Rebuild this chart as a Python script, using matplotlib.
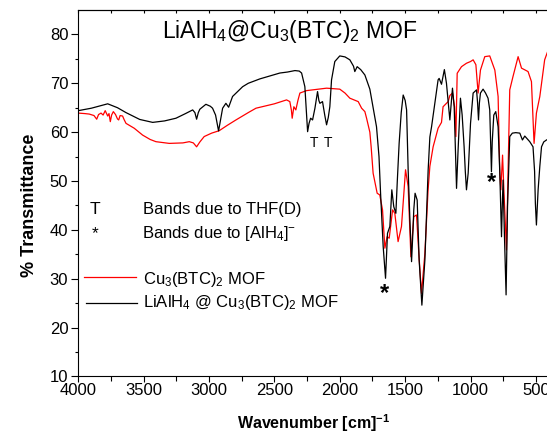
"""FTIR spectra: Cu3(BTC)2 MOF vs LiAlH4@Cu3(BTC)2 MOF."""

import matplotlib
matplotlib.use("Agg")
import matplotlib.pyplot as plt
import numpy as np

plt.rcParams["font.family"] = ["Liberation Sans", "DejaVu Sans"]
plt.rcParams["mathtext.fontset"] = "custom"
plt.rcParams["mathtext.rm"] = "Liberation Sans"
plt.rcParams["mathtext.it"] = "Liberation Sans:italic"
plt.rcParams["mathtext.bf"] = "Liberation Sans:bold"

# LiAlH4@Cu3(BTC)2 MOF (black)
wn_black = [4000, 3900, 3775, 3700, 3635, 3530, 3431, 3340, 3253, 3180, 3125, 3108, 3095, 3082,
            3070, 3024, 2990, 2973, 2950, 2927, 2912, 2896, 2871, 2850, 2820, 2743, 2700, 2611,
            2458, 2400, 2343, 2310, 2292, 2267, 2255, 2246, 2235, 2223, 2208, 2190, 2170, 2160,
            2152, 2132, 2115, 2101, 2088, 2076, 2063, 2038, 2000, 1960, 1923, 1895, 1885, 1867,
            1840, 1808, 1770, 1745, 1719, 1700, 1688, 1668, 1650, 1635, 1617, 1602, 1587, 1571,
            1560, 1546, 1530, 1515, 1500, 1489, 1477, 1465, 1451, 1440, 1434, 1424, 1408, 1393,
            1372, 1349, 1324, 1311, 1298, 1273, 1248, 1240, 1222, 1200, 1184, 1170, 1158, 1138,
            1125, 1107, 1095, 1077, 1064, 1049, 1040, 1031, 1018, 1000, 980, 954, 946, 939, 932,
            924, 904, 885, 866, 853, 846, 840, 834, 822, 807, 789, 776, 763, 757, 751, 741, 728,
            717, 700, 680, 654, 623, 603, 585, 547, 522, 510, 504, 496, 483, 470, 457, 440, 419, 400]
t_black = [64.4, 64.9, 65.8, 65.0, 64.0, 62.6, 62.0, 62.3, 62.85, 63.8, 64.55, 64.0, 62.65, 64.0,
           64.7, 65.7, 65.3, 64.9, 63.5, 60.25, 62.5, 64.9, 65.9, 65.1, 67.3, 69.3, 70.0, 70.9,
           72.1, 72.3, 72.6, 72.5, 72.1, 69.3, 64.0, 60.1, 61.8, 62.85, 62.5, 64.9, 68.3, 66.5,
           65.9, 66.25, 63.5, 61.5, 63.0, 65.2, 70.7, 74.45, 75.6, 75.4, 74.8, 73.5, 72.4, 73.4,
           72.8, 71.7, 68.8, 65.0, 61.1, 55.0, 47.5, 36.6, 30.1, 39.3, 40.7, 48.2, 44.75, 43.4,
           50.0, 57.7, 64.0, 67.6, 66.5, 64.55, 52.3, 43.0, 33.5, 40.0, 44.1, 47.5, 46.1, 33.85,
           24.6, 33.85, 52.3, 59.0, 61.1, 65.9, 70.7, 71.0, 69.8, 72.8, 70.0, 66.0, 62.5, 69.0,
           65.2, 48.5, 56.4, 66.95, 63.5, 57.0, 52.0, 48.2, 51.6, 61.8, 68.0, 68.65, 66.0, 62.5, 66.0,
           68.0, 68.8, 68.0, 66.95, 64.55, 58.0, 51.9, 58.0, 63.5, 64.2, 61.1, 51.6, 38.6, 45.0, 50.2, 39.3, 26.7,
           44.75, 59.1, 59.8, 59.9, 59.8, 58.4, 59.2, 58.05, 57.0, 52.0, 45.45, 41.0, 48.2, 53.0, 57.0, 58.0, 58.4, 58.6]

# Cu3(BTC)2 MOF (red)
wn_red = [4000, 3950, 3916, 3880, 3859, 3845, 3826, 3810, 3794, 3775, 3765, 3755, 3745, 3732,
          3715, 3700, 3691, 3680, 3661, 3650, 3635, 3572, 3508, 3450, 3406, 3304, 3200, 3151,
          3120, 3095, 3070, 3037, 2980, 2922, 2860, 2794, 2700, 2641, 2500, 2407, 2382, 2370,
          2364, 2351, 2336, 2320, 2305, 2254, 2101, 2000, 1960, 1923, 1859, 1833, 1808, 1795,
          1770, 1760, 1745, 1714, 1694, 1673, 1655, 1638, 1622, 1596, 1579, 1554, 1528, 1497,
          1477, 1456, 1434, 1413, 1395, 1375, 1349, 1325, 1311, 1286, 1248, 1222, 1210, 1184,
          1171, 1158, 1138, 1122, 1112, 1102, 1069, 1031, 1000, 980, 959, 942, 924, 891, 853,
          814, 789, 776, 768, 755, 745, 725, 713, 700, 675, 636, 610, 560, 534, 514, 496, 470,
          433, 410, 400]
t_red = [63.9, 63.8, 63.7, 63.4, 62.65, 63.6, 63.9, 63.5, 64.4, 63.3, 63.8, 62.15, 63.5, 64.2,
         63.6, 62.7, 62.5, 63.4, 63.3, 62.6, 61.8, 60.8, 59.4, 58.5, 58.05, 57.7, 57.8, 58.05,
         57.8, 57.0, 58.0, 59.1, 59.8, 60.3, 61.4, 62.5, 64.0, 64.9, 65.8, 66.6, 66.25, 64.5,
         62.85, 65.2, 64.55, 66.5, 68.0, 68.5, 69.0, 68.8, 68.0, 66.95, 66.25, 64.9, 64.2, 62.85,
         60.0, 57.0, 51.6, 47.5, 47.15, 44.1, 36.25, 38.6, 38.3, 44.1, 43.4, 37.6, 40.7, 52.3,
         48.85, 34.5, 42.7, 43.05, 35.0, 27.0, 35.2, 48.0, 53.0, 57.0, 60.8, 62.0, 65.2, 65.9,
         66.25, 67.5, 68.0, 65.2, 59.1, 72.05, 73.4, 74.1, 74.45, 74.8, 73.8, 68.0, 72.7, 75.45, 75.6,
         72.7, 67.3, 51.6, 48.2, 55.3, 48.2, 35.9, 51.6, 68.65, 71.4, 75.45, 73.1, 72.4, 70.35, 57.7, 63.9, 67.3,
         74.8, 76.5, 77.0]

fig = plt.figure(figsize=(5.47, 4.34), dpi=100)
ax = fig.add_axes([0.1431, 0.1325, 0.8605, 0.8445])

ax.plot(wn_red, t_red, color="#ff0000", lw=0.9)
ax.plot(wn_black, t_black, color="black", lw=0.9)

ax.set_xlim(4000, 400)
ax.set_ylim(10, 85)
ax.set_xticks(np.arange(4000, 399, -500))
ax.set_xticks(np.arange(3750, 399, -500), minor=True)
ax.set_yticks(np.arange(10, 81, 10))
ax.set_yticks(np.arange(15, 85, 10), minor=True)
ax.tick_params(axis="x", which="major", direction="out", length=4, width=0.8, pad=1, labelsize=12)
ax.tick_params(axis="x", which="minor", direction="out", length=3.3, width=0.8)
ax.tick_params(axis="y", which="major", direction="out", length=4.8, width=0.8, pad=2.4, labelsize=12)
ax.tick_params(axis="y", which="minor", direction="out", length=2.4, width=0.8)
for s in ax.spines.values():
    s.set_linewidth(0.8)

top = ax.secondary_xaxis("top")
top.set_xticks(np.arange(4000, 399, -250))
top.tick_params(direction="in", length=2.2, width=0.8, labeltop=False)

ax.set_xlabel(r"Wavenumber [cm]$^{\mathbf{-1}}$", fontsize=11.5, fontweight="bold", labelpad=10)
ax.set_ylabel("% Transmittance", fontsize=13, fontweight="bold")
ax.yaxis.set_label_coords(-0.085, 0.468)

ax.text(2382, 79.2, r"LiAlH$_4$@Cu$_3$(BTC)$_2$ MOF", fontsize=16.5, ha="center", va="baseline")

# band markers
ax.text(2198, 57.0, "T", fontsize=10, ha="center", va="baseline")
ax.text(2089, 57.0, "T", fontsize=10, ha="center", va="baseline")
ax.text(1661, 25.6, "*", fontsize=17, fontweight="bold", ha="center", va="baseline")
ax.text(840, 48.4, "*", fontsize=17, fontweight="bold", ha="center", va="baseline")

# hand-made legend
ax.text(3872, 43.2, "T", fontsize=12.5, ha="center", va="baseline")
ax.text(3503, 43.2, "Bands due to THF(D)", fontsize=12, va="baseline")
ax.text(3872, 38.3, "*", fontsize=12.5, ha="center", va="baseline")
ax.text(3513, 38.3, r"Bands due to [AlH$_4$]$^{-}$", fontsize=12, va="baseline")
ax.plot([3956, 3558], [30.43, 30.43], color="#ff0000", lw=0.9)
ax.text(3503, 29.0, r"Cu$_3$(BTC)$_2$ MOF", fontsize=12, va="baseline")
ax.plot([3941, 3549], [25.1, 25.1], color="black", lw=0.9)
ax.text(3503, 24.3, r"LiAlH$_4$ @ Cu$_3$(BTC)$_2$ MOF", fontsize=12, va="baseline")

fig.savefig("out.png", dpi=100, facecolor="white")
plt.close(fig)
